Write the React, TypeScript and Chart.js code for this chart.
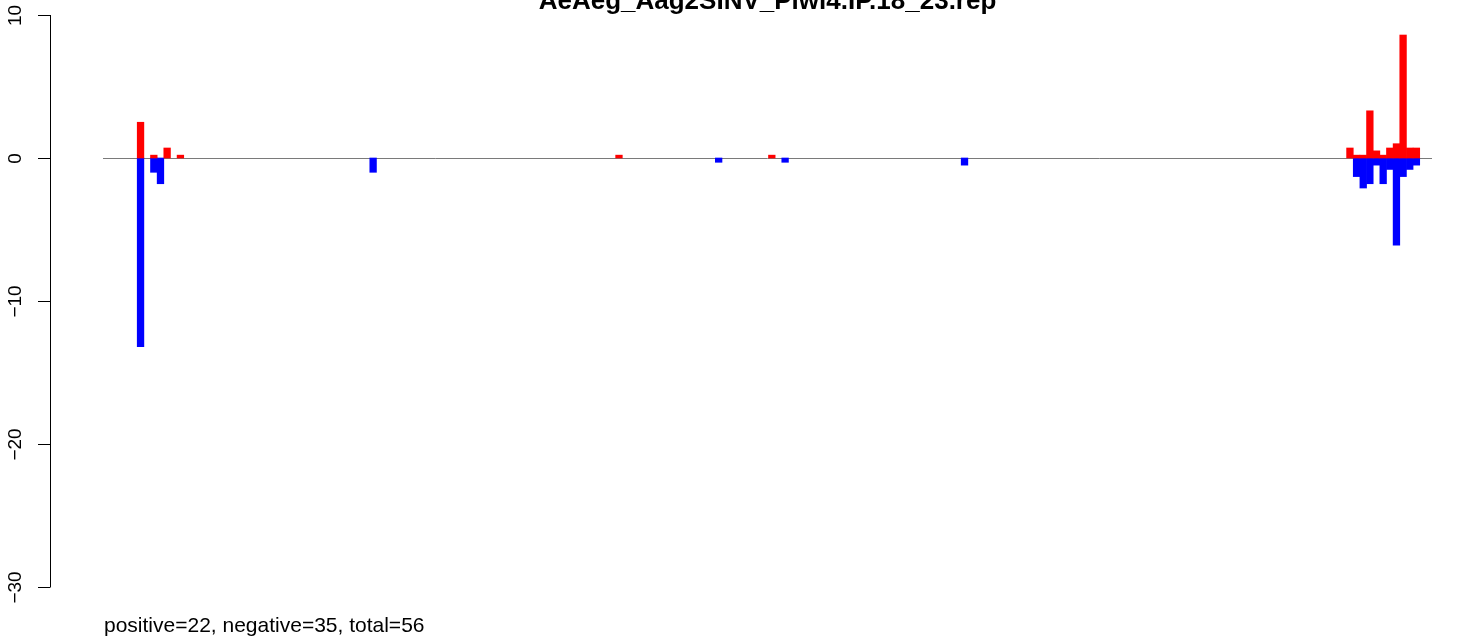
import React, { useEffect, useRef } from "react";
import { Chart, registerables } from "chart.js";

Chart.register(...registerables);

const chartTitle = "AeAeg_Aag2SINV_Piwi4.IP.18_23.rep";
const footText = "positive=22, negative=35, total=56";
const slotCount = 200;
const yTicks = [-30, -20, -10, 0, 10];

const posIndex = [5, 7, 9, 11, 77, 100, 187, 188, 189, 190, 191, 192, 193, 194, 195, 196, 197];
const posValues = [2.5, 0.2, 0.7, 0.2, 0.2, 0.2, 0.7, 0.2, 0.2, 3.3, 0.5, 0.2, 0.7, 1.0, 8.6, 0.7, 0.7];
const negIndex = [5, 7, 8, 40, 92, 102, 129, 188, 189, 190, 191, 192, 193, 194, 195, 196, 197];
const negValues = [-13.2, -1.0, -1.8, -1.0, -0.3, -0.3, -0.5, -1.3, -2.1, -1.8, -0.5, -1.8, -0.8, -6.1, -1.3, -0.8, -0.5];

function spread(idx: number[], vals: number[]): (number | null)[] {
  const out: (number | null)[] = [];
  for (let i = 0; i < slotCount; i++) out.push(null);
  idx.forEach((k, j) => {
    out[k] = vals[j];
  });
  return out;
}

const fmt = (v: number) => (v < 0 ? "\u2212" + Math.abs(v) : String(v));

export default function App() {
  const ref = useRef<HTMLCanvasElement | null>(null);

  useEffect(() => {
    document.body.style.margin = "0";
    if (!ref.current) return;
    const labels: string[] = [];
    for (let i = 0; i < slotCount; i++) labels.push(String(i));

    const decor = {
      id: "decor",
      beforeDatasetsDraw(chart: any) {
        const { ctx, chartArea, scales } = chart;
        const y0 = scales.y.getPixelForValue(0);
        ctx.save();
        ctx.strokeStyle = "#7a7a7a";
        ctx.lineWidth = 1;
        ctx.beginPath();
        ctx.moveTo(chartArea.left - 1, Math.round(y0) + 0.5);
        ctx.lineTo(chartArea.right - 1, Math.round(y0) + 0.5);
        ctx.stroke();
        ctx.restore();
      },
      afterDraw(chart: any) {
        const { ctx, scales } = chart;
        const ys = scales.y;
        const axisX = 50.5;
        ctx.save();
        ctx.strokeStyle = "#000";
        ctx.lineWidth = 1;
        ctx.beginPath();
        ctx.moveTo(axisX, ys.getPixelForValue(yTicks[yTicks.length - 1]));
        ctx.lineTo(axisX, ys.getPixelForValue(yTicks[0]));
        ctx.stroke();
        ctx.fillStyle = "#000";
        ctx.font = "19px 'Liberation Sans', Arial, sans-serif";
        ctx.textAlign = "center";
        ctx.textBaseline = "alphabetic";
        yTicks.forEach((t) => {
          const py = Math.round(ys.getPixelForValue(t)) + 0.5;
          ctx.beginPath();
          ctx.moveTo(38, py);
          ctx.lineTo(axisX, py);
          ctx.stroke();
          ctx.save();
          ctx.translate(21, py);
          ctx.rotate(-Math.PI / 2);
          ctx.fillText(fmt(t), 0, 0);
          ctx.restore();
        });
        ctx.font = "bold 26px 'Liberation Sans', Arial, sans-serif";
        ctx.textAlign = "center";
        ctx.fillText(chartTitle, 767.5, 9);
        ctx.font = "21px 'Liberation Sans', Arial, sans-serif";
        ctx.textAlign = "left";
        ctx.fillText(footText, 104, 632);
        ctx.restore();
      },
    };

    const chart = new Chart(ref.current, {
      type: "bar",
      data: {
        labels,
        datasets: [
          {
            label: "positive",
            data: spread(posIndex, posValues),
            backgroundColor: "#ff0000",
            borderWidth: 0,
            barPercentage: 1,
            categoryPercentage: 1,
          },
          {
            label: "negative",
            data: spread(negIndex, negValues),
            backgroundColor: "#0000ff",
            borderWidth: 0,
            barPercentage: 1,
            categoryPercentage: 1,
          },
        ],
      },
      options: {
        responsive: false,
        animation: false,
        layout: { padding: { left: 104, right: 27, top: 15, bottom: 56 } },
        plugins: {
          legend: { display: false },
          title: { display: false },
          tooltip: { enabled: false },
        },
        scales: {
          x: { display: false, stacked: true, offset: true },
          y: { display: false, stacked: true, min: -30, max: 10 },
        },
      },
      plugins: [decor],
    });
    return () => chart.destroy();
  }, []);

  return (
    <div style={{ position: "absolute", left: 0, top: 0, width: 1460, height: 643, background: "#fff" }}>
      <canvas ref={ref} width={1460} height={643} />
    </div>
  );
}
